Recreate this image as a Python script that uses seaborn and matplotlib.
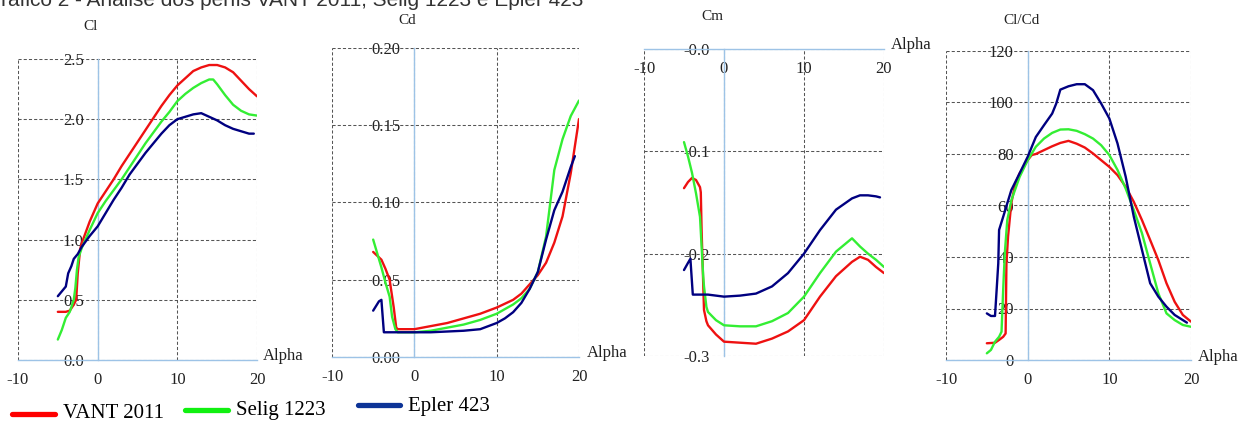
import pandas as pd
import matplotlib
matplotlib.use('Agg')
import matplotlib.pyplot as plt
import seaborn as sns
from matplotlib.lines import Line2D

# ---- dados ----
perfis = ['VANT 2011', 'Selig 1223', 'Epler 423']
cores = {'VANT 2011': '#ee1111', 'Selig 1223': '#33ee33', 'Epler 423': '#000080'}
cores_legenda = ['#ff0000', '#11f011', '#0d3497']

titulo = 'Gráfico 2 - Análise dos perfis VANT 2011, Selig 1223 e Epler 423'

x_ticks = [-10, 0, 10, 20]

# Cl
cl_alpha_vant = [-5, -4.5, -4, -3.5, -3, -2.7, -2.5, -2.2, -2, -1, 0, 1, 2, 3, 4, 5, 6, 7, 8, 9, 10,
                 11, 12, 13, 14, 15, 16, 17, 18, 19, 20]
cl_vant = [0.40, 0.40, 0.40, 0.41, 0.46, 0.50, 0.72, 0.92, 0.97, 1.15, 1.30, 1.40, 1.50, 1.61, 1.71,
           1.81, 1.91, 2.01, 2.11, 2.20, 2.28, 2.34, 2.40, 2.43, 2.45, 2.45, 2.43, 2.39, 2.32, 2.25, 2.19]
cl_alpha_selig = [-5, -4.5, -4, -3.5, -3, -2.8, -2.6, -2.4, -2, -1, 0, 1, 2, 3, 4, 5, 6, 7, 8, 9, 10,
                  11, 12, 13, 14, 14.5, 15, 16, 17, 18, 19, 20]
cl_selig = [0.17, 0.25, 0.35, 0.40, 0.50, 0.60, 0.75, 0.85, 0.93, 1.08, 1.22, 1.32, 1.41, 1.50, 1.60,
            1.70, 1.80, 1.89, 1.98, 2.06, 2.15, 2.21, 2.26, 2.30, 2.33, 2.33, 2.29, 2.20, 2.12, 2.07,
            2.04, 2.03]
cl_alpha_epler = [-5, -4.5, -4, -3.7, -3.3, -3, -2.5, -2, -1, 0, 1, 2, 3, 4, 5, 6, 7, 8, 9, 10,
                  11, 12, 13, 14, 15, 16, 17, 18, 19, 19.6]
cl_epler = [0.53, 0.57, 0.61, 0.72, 0.78, 0.84, 0.88, 0.94, 1.03, 1.11, 1.22, 1.33, 1.43, 1.54, 1.63,
            1.72, 1.80, 1.88, 1.95, 2.00, 2.02, 2.04, 2.05, 2.02, 1.99, 1.95, 1.92, 1.90, 1.88, 1.88]

# Cd
cd_alpha_vant = [-5, -4, -3.5, -3, -2.5, -2.2, -2, 0, 1, 2, 4, 6, 8, 10, 12, 13, 14, 15, 16, 17, 18,
                 19, 20]
cd_vant = [0.068, 0.063, 0.057, 0.050, 0.032, 0.019, 0.018, 0.018, 0.019, 0.020, 0.022, 0.025,
           0.028, 0.032, 0.037, 0.041, 0.047, 0.053, 0.061, 0.074, 0.091, 0.119, 0.154]
cd_alpha_selig = [-5, -4, -3.5, -3, -2.7, -2.3, -2, 0, 2, 4, 6, 8, 10, 12, 13, 14, 15, 16, 17, 18,
                  19, 20]
cd_selig = [0.076, 0.058, 0.048, 0.039, 0.026, 0.018, 0.016, 0.016, 0.017, 0.019, 0.021, 0.024,
            0.028, 0.034, 0.038, 0.044, 0.055, 0.078, 0.121, 0.141, 0.156, 0.166]
cd_alpha_epler = [-5, -4.3, -4, -3.7, -2, 2, 4, 6, 8, 10, 11, 12, 13, 14, 15, 16, 17, 18, 19, 19.5]
cd_epler = [0.030, 0.036, 0.037, 0.016, 0.016, 0.016, 0.0165, 0.017, 0.018, 0.022, 0.025, 0.029,
            0.035, 0.044, 0.055, 0.076, 0.095, 0.107, 0.123, 0.130]

# Cm
cm_alpha_vant = [-5, -4.5, -4, -3.5, -3, -2.9, -2.8, -2.6, -2.5, -2.2, -2, -1, 0, 2, 4, 6, 8, 10, 12,
                 14, 16, 17, 18, 19, 20]
cm_vant = [-0.136, -0.130, -0.126, -0.128, -0.135, -0.140, -0.177, -0.229, -0.255, -0.266, -0.270,
           -0.279, -0.286, -0.287, -0.288, -0.283, -0.276, -0.265, -0.242, -0.222, -0.208, -0.203,
           -0.206, -0.213, -0.219]
cm_alpha_selig = [-5, -4.5, -4, -3.5, -3, -2.8, -2.6, -2.5, -2.2, -2, -1, 0, 2, 4, 6, 8, 10, 12, 14,
                  16, 17, 18, 19, 20]
cm_selig = [-0.091, -0.105, -0.121, -0.141, -0.164, -0.193, -0.222, -0.232, -0.252, -0.257, -0.265,
            -0.270, -0.271, -0.271, -0.266, -0.258, -0.242, -0.219, -0.198, -0.185, -0.193, -0.200,
            -0.206, -0.213]
cm_alpha_epler = [-5, -4.5, -4.2, -3.9, -2, 0, 2, 4, 6, 8, 10, 12, 14, 16, 17, 18, 19, 19.5]
cm_epler = [-0.216, -0.209, -0.205, -0.240, -0.240, -0.242, -0.241, -0.239, -0.232, -0.219, -0.200,
            -0.177, -0.157, -0.146, -0.143, -0.143, -0.144, -0.145]

# Cl/Cd
clcd_alpha_vant = [-5, -4, -3.5, -3, -2.7, -2.6, -2.4, -2, -1.5, -1, 0, 0.5, 1, 2, 3, 4, 5, 6, 7, 8,
                   9, 10, 11, 12, 13, 14, 15, 16, 17, 18, 19, 20]
clcd_vant = [6.5, 6.7, 7.8, 9.0, 10.3, 37.5, 48.0, 61.0, 68.6, 72.4, 77.6, 79.6, 80.0, 81.5, 83.0,
             84.3, 85.1, 84.0, 82.5, 80.2, 77.6, 75.0, 71.8, 67.3, 61.4, 54.3, 46.6, 38.8, 29.8,
             22.6, 17.5, 14.9]
clcd_alpha_selig = [-5, -4.5, -4, -3.5, -3.2, -3, -2.8, -2.5, -2, -1, 0, 1, 2, 3, 4, 5, 6, 7, 8, 9,
                    10, 11, 12, 13, 14, 15, 16, 17, 18, 19, 20]
clcd_selig = [2.6, 3.9, 7.1, 9.0, 11.0, 27.2, 41.4, 54.3, 62.0, 71.0, 77.6, 82.8, 86.0, 88.2, 89.5,
              89.6, 89.0, 87.7, 86.0, 83.4, 79.6, 73.8, 66.6, 58.2, 49.2, 37.5, 25.9, 18.1, 15.5,
              13.6, 12.9]
clcd_alpha_epler = [-5, -4.5, -4, -3.8, -3.6, -3.5, -3, -2.5, -2, -1, 0, 1, 2, 3, 3.5, 4, 5, 6, 7,
                    8, 9, 10, 11, 12, 13, 14, 15, 16, 17, 18, 19, 19.5]
clcd_epler = [18.1, 17.1, 17.1, 27.2, 37.5, 50.5, 55.6, 60.8, 66.0, 72.4, 78.9, 86.6, 91.2, 95.7,
              99.6, 105.0, 106.3, 107.1, 107.1, 104.8, 99.6, 93.8, 84.1, 71.2, 55.6, 42.7, 29.8,
              24.6, 20.7, 17.5, 15.5, 14.5]


def long_df(nome, series):
    partes = []
    for perfil, (a, v) in zip(perfis, series):
        partes.append(pd.DataFrame({'Alpha': a, nome: v, 'Perfil': perfil}))
    return pd.concat(partes, ignore_index=True)


paineis = [
    dict(nome='Cl', df=long_df('Cl', [(cl_alpha_vant, cl_vant), (cl_alpha_selig, cl_selig),
                                       (cl_alpha_epler, cl_epler)]),
         ylim=(0, 2.5), yticks=[0, 0.5, 1.0, 1.5, 2.0, 2.5],
         ylabels=['0.0', '0.5', '1.0', '1.5', '2.0', '2.5'],
         px=(18, 59, 257, 360), label_xy=(91, 27), alpha_xy=(283, 356)),
    dict(nome='Cd', df=long_df('Cd', [(cd_alpha_vant, cd_vant), (cd_alpha_selig, cd_selig),
                                       (cd_alpha_epler, cd_epler)]),
         ylim=(0, 0.20), yticks=[0, 0.05, 0.10, 0.15, 0.20],
         ylabels=['0.00', '0.05', '0.10', '0.15', '0.20'],
         px=(332, 48, 579, 357), label_xy=(407, 20), alpha_xy=(607, 353)),
    dict(nome='Cm', df=long_df('Cm', [(cm_alpha_vant, cm_vant), (cm_alpha_selig, cm_selig),
                                       (cm_alpha_epler, cm_epler)]),
         ylim=(-0.3, 0), yticks=[-0.3, -0.2, -0.1, 0],
         ylabels=['-0.3', '-0.2', '-0.1', '-0.0'],
         px=(644, 49, 884, 356), label_xy=(712, 17), alpha_xy=(911, 45)),
    dict(nome='Cl/Cd', df=long_df('Cl/Cd', [(clcd_alpha_vant, clcd_vant),
                                             (clcd_alpha_selig, clcd_selig),
                                             (clcd_alpha_epler, clcd_epler)]),
         ylim=(0, 120), yticks=[0, 20, 40, 60, 80, 100, 120],
         ylabels=['0', '20', '40', '60', '80', '100', '120'],
         px=(946, 51, 1191, 360), label_xy=(1021, 21), alpha_xy=(1218, 357)),
]

sns.set_style('white')
plt.rcParams['font.family'] = ['Liberation Serif', 'DejaVu Serif']

W, H = 1246, 423
fig = plt.figure(figsize=(W / 100, H / 100), dpi=100)

azul_eixo = '#9dc3e6'
cinza_grade = '#555555'
texto = '#222222'

for p in paineis:
    x0, y0, x1, y1 = p['px']
    ax = fig.add_axes([x0 / W, 1 - y1 / H, (x1 - x0) / W, (y1 - y0) / H])

    sns.lineplot(data=p['df'], x='Alpha', y=p['nome'], hue='Perfil', palette=cores,
                 estimator=None, sort=False, legend=False, lw=1.7, ax=ax, zorder=4)

    ax.set_xlim(-10, 20)
    ax.set_ylim(*p['ylim'])
    ax.set_xticks(x_ticks)
    ax.set_xticklabels([str(t) for t in x_ticks])
    ax.set_yticks(p['yticks'])
    ax.set_yticklabels(p['ylabels'])
    ax.set_xlabel('')
    ax.set_ylabel('')

    # grade tracejada
    ax.grid(True, color=cinza_grade, linestyle=(0, (3, 2)), linewidth=0.75, zorder=1)
    ax.set_axisbelow(True)

    for s in ['top', 'right']:
        ax.spines[s].set_visible(False)
    ax.spines['left'].set_position(('data', 0))
    ax.spines['bottom'].set_position(('data', 0))
    for s in ['left', 'bottom']:
        ax.spines[s].set_color(azul_eixo)
        ax.spines[s].set_linewidth(1.0)
        ax.spines[s].set_zorder(3)

    ax.tick_params(axis='y', length=0, pad=10, labelsize=12, labelcolor=texto)
    ax.tick_params(axis='x', length=3, color=azul_eixo, pad=5.5, labelsize=12, labelcolor=texto)

    fig.text(p['label_xy'][0] / W, 1 - p['label_xy'][1] / H, p['nome'], ha='center',
             va='center', fontsize=11, color=texto)
    fig.text(p['alpha_xy'][0] / W, 1 - p['alpha_xy'][1] / H, 'Alpha', ha='center',
             va='center', fontsize=12, color=texto)

# título (cortado no topo, como no original)
fig.text(-15 / W, 1 - 6 / H, titulo, ha='left', va='baseline', fontsize=15,
         family=['Liberation Sans', 'DejaVu Sans'], color='#333333')

# legenda
leg_px = [(12, 55, 414, 63, 418), (185, 228, 410, 236, 415), (358, 400, 405, 408, 411)]
for (lx0, lx1, ly, tx, ty), perfil, cor in zip(leg_px, perfis, cores_legenda):
    fig.add_artist(Line2D([lx0 / W, lx1 / W], [1 - ly / H, 1 - ly / H], color=cor, lw=3.8,
                          transform=fig.transFigure))
    fig.text(tx / W, 1 - ty / H, perfil, ha='left', va='baseline', fontsize=15, color='black')

fig.savefig('out.png', dpi=100)
